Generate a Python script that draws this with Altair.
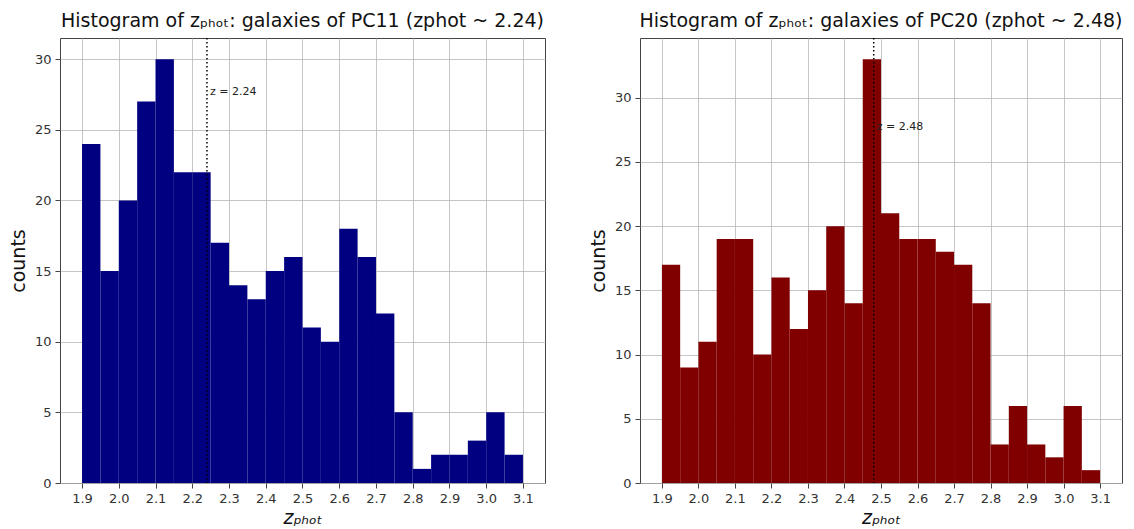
import altair as alt
import pandas as pd

# bin edges of the histograms (width 0.05)
bin_start = [1.90, 1.95, 2.00, 2.05, 2.10, 2.15, 2.20, 2.25, 2.30, 2.35, 2.40, 2.45,
             2.50, 2.55, 2.60, 2.65, 2.70, 2.75, 2.80, 2.85, 2.90, 2.95, 3.00, 3.05]
bin_end = [1.95, 2.00, 2.05, 2.10, 2.15, 2.20, 2.25, 2.30, 2.35, 2.40, 2.45, 2.50,
           2.55, 2.60, 2.65, 2.70, 2.75, 2.80, 2.85, 2.90, 2.95, 3.00, 3.05, 3.10]

counts_pc11 = [24, 15, 20, 27, 30, 22, 22, 17, 14, 13, 15, 16,
               11, 10, 18, 16, 12, 5, 1, 2, 2, 3, 5, 2]
counts_pc20 = [17, 9, 11, 19, 19, 10, 16, 12, 15, 20, 14, 33,
               21, 19, 19, 18, 17, 14, 3, 6, 3, 2, 6, 1]

x_ticks = [1.9, 2.0, 2.1, 2.2, 2.3, 2.4, 2.5, 2.6, 2.7, 2.8, 2.9, 3.0, 3.1]
y_ticks = [0, 5, 10, 15, 20, 25, 30]

titles = ["Histogram of zₚₕₒₜ: galaxies of PC11 (zphot ~ 2.24)",
          "Histogram of zₚₕₒₜ: galaxies of PC20 (zphot ~ 2.48)"]
z_marks = [2.24, 2.48]
label_y = [27.7, 27.7]
colors = ["#000080", "#800000"]
y_max = [31.5, 34.65]
widths = [485, 482]

FONT = "DejaVu Sans"
XT = "zₚₕₒₜ"


def panel(counts, color, zline, ly, title, ymax, width):
    df = pd.DataFrame({"start": bin_start, "end": bin_end, "count": counts})
    xs = alt.Scale(domain=[1.84, 3.16], nice=False, zero=False)
    ys = alt.Scale(domain=[0, ymax], nice=False, zero=True)
    xax = alt.Axis(values=x_ticks, format=".1f")
    yax = alt.Axis(values=y_ticks)
    bars = alt.Chart(df).mark_rect(color=color).encode(
        x=alt.X("start:Q", scale=xs, axis=xax, title=XT),
        x2="end:Q",
        y=alt.Y("count:Q", scale=ys, axis=yax, title="counts"),
        y2=alt.datum(0),
    )
    ldf = pd.DataFrame({"start": [zline], "count": [ly], "t": [f"z = {zline:.2f}"]})
    rule = alt.Chart(ldf).mark_rule(color="black", strokeDash=[1.5, 2.5], strokeWidth=1.5).encode(
        x=alt.X("start:Q", scale=xs, axis=xax, title=XT),
    )
    text = alt.Chart(ldf).mark_text(align="left", baseline="middle", dx=3, fontSize=11,
                                    font=FONT, color="#222").encode(
        x=alt.X("start:Q", scale=xs, axis=xax, title=XT),
        y=alt.Y("count:Q", scale=ys, axis=yax, title="counts"),
        text="t:N",
    )
    return alt.layer(bars, rule, text).properties(
        width=width, height=445,
        title=alt.Title(title, fontSize=19, fontWeight="normal", font=FONT, color="#111", offset=6),
    )


left = panel(counts_pc11, colors[0], z_marks[0], label_y[0], titles[0], y_max[0], widths[0])
right = panel(counts_pc20, colors[1], z_marks[1], label_y[1], titles[1], y_max[1], widths[1])

chart = alt.hconcat(left, right, spacing=42).properties(
    padding={"left": 0, "top": 3, "right": 0, "bottom": 0}
).configure_view(
    stroke="#444", strokeWidth=1
).configure_axis(
    zindex=1,
    domain=False,
    grid=True, gridColor="#b8b8b8", gridWidth=0.8, gridOpacity=1,
    tickColor="#444", tickSize=5, tickWidth=1,
    labelFont=FONT, labelFontSize=13, labelColor="#333", labelPadding=4,
    titleFont=FONT, titleFontSize=19, titleFontWeight="normal", titleColor="#111",
).configure_axisX(
    titleFontStyle="italic", titlePadding=3,
).configure_axisY(
    titlePadding=6,
)

chart.save("out.html", embed_options={"renderer": "svg", "actions": False})
